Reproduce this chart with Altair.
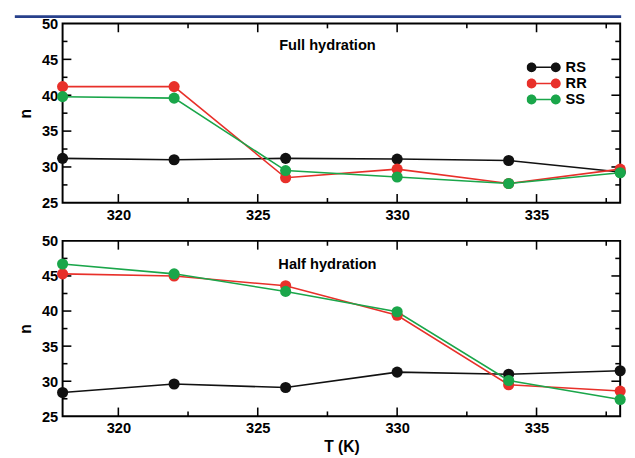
import altair as alt
import pandas as pd

# ---- data ----
T = [318, 322, 326, 330, 334, 338]
series = ["RS", "RR", "SS"]
colors = ["#111111", "#e8302a", "#1aa64a"]

full_RS = [31.2, 31.0, 31.2, 31.1, 30.9, 29.3]
full_RR = [41.2, 41.2, 28.5, 29.7, 27.7, 29.7]
full_SS = [39.8, 39.6, 29.5, 28.6, 27.7, 29.2]

half_RS = [28.4, 29.6, 29.1, 31.3, 31.0, 31.5]
half_RR = [45.3, 45.0, 43.6, 39.4, 29.5, 28.6]
half_SS = [46.7, 45.3, 42.8, 39.9, 30.1, 27.4]

x_major = [320, 325, 330, 335]
x_minor = [322.5, 327.5, 332.5, 337.5]
y_major = [30, 35, 40, 45]
y_minor = [27.5, 32.5, 37.5, 42.5, 47.5]
y_labels = [25, 30, 35, 40, 45, 50]

X_DOM = [318, 338]
Y_DOM = [25, 50]

FONT = "Liberation Sans"
W = 572
MAJ = 9     # inward major tick length (px)
MIN = 5     # inward minor tick length (px)
THICK = 1.6  # tick thickness (px)
LEGEND_PATH = ("M -1 0 A 0.29 0.29 0 1 1 -0.42 0 A 0.29 0.29 0 1 1 -1 0 Z "
               "M 0.42 0 A 0.29 0.29 0 1 1 1 0 A 0.29 0.29 0 1 1 0.42 0 Z "
               "M -0.44 -0.045 L 0.44 -0.045 L 0.44 0.045 L -0.44 0.045 Z")


def make_df(rs, rr, ss):
    rows = []
    for name, vals in zip(series, [rs, rr, ss]):
        for t, v in zip(T, vals):
            rows.append({"T": t, "n": v, "series": name})
    return pd.DataFrame(rows)


def tick_table(H):
    # small filled rectangles for inward ticks on the four edges
    ux = (X_DOM[1] - X_DOM[0]) / W    # data units per px along x
    uy = (Y_DOM[1] - Y_DOM[0]) / H    # data units per px along y
    hx = THICK / 2 * ux
    hy = THICK / 2 * uy
    rows = []
    for vals, L in ((x_major, MAJ), (x_minor, MIN)):
        for v in vals:
            rows.append({"x1": v - hx, "x2": v + hx,
                         "y1": Y_DOM[0], "y2": Y_DOM[0] + L * uy})
            rows.append({"x1": v - hx, "x2": v + hx,
                         "y1": Y_DOM[1] - L * uy, "y2": Y_DOM[1]})
    for vals, L in ((y_major, MAJ), (y_minor, MIN)):
        for v in vals:
            rows.append({"x1": X_DOM[0], "x2": X_DOM[0] + L * ux,
                         "y1": v - hy, "y2": v + hy})
            rows.append({"x1": X_DOM[1] - L * ux, "x2": X_DOM[1],
                         "y1": v - hy, "y2": v + hy})
    return pd.DataFrame(rows)


def panel(df, H, label, label_y, xtitle, show_legend, top_rule):
    xs = alt.Scale(domain=X_DOM, nice=False, zero=False)
    ys = alt.Scale(domain=Y_DOM, nice=False, zero=False)
    cscale = alt.Scale(domain=series, range=colors)

    if show_legend:
        leg = alt.Legend(
            title=None, orient="none", legendX=472, legendY=33,
            symbolType=LEGEND_PATH, symbolSize=1225, symbolStrokeWidth=0,
            symbolOpacity=1, labelFont=FONT, labelFontSize=15,
            labelFontWeight="bold", labelColor="black", clipHeight=16,
            rowPadding=0.5, labelOffset=5, fillColor="white", padding=4)
    else:
        leg = None

    lines = alt.Chart(df).mark_line(strokeWidth=1.6).encode(
        x=alt.X("T:Q", scale=xs, axis=alt.Axis(
            orient="bottom", values=x_major, format="d", grid=False,
            title=xtitle, titlePadding=3)),
        y=alt.Y("n:Q", scale=ys, axis=alt.Axis(
            orient="left", values=y_labels, grid=False,
            title="n", titlePadding=8)),
        color=alt.Color("series:N", scale=cscale, legend=leg),
    )

    pts = alt.Chart(df).mark_circle(size=130, opacity=1).encode(
        x=alt.X("T:Q", scale=xs, axis=None),
        y=alt.Y("n:Q", scale=ys, axis=None),
        color=alt.Color("series:N", scale=cscale, legend=leg),
    )

    ticks = alt.Chart(tick_table(H)).mark_rect(
        color="#000000", opacity=1).encode(
        x=alt.X("x1:Q", scale=xs, axis=None),
        x2="x2:Q",
        y=alt.Y("y1:Q", scale=ys, axis=None),
        y2="y2:Q",
    )

    txt = alt.Chart().mark_text(
        text=label, font=FONT, fontSize=15, fontWeight="bold",
        color="black", baseline="middle", align="center",
    ).encode(
        x=alt.XDatum(327.5, axis=None),
        y=alt.YDatum(label_y, axis=None),
    )

    layers = [ticks, lines, pts, txt]
    if top_rule:
        rule = alt.Chart().mark_rule(color="#27408b", strokeWidth=3).encode(
            x=alt.value(-49), x2=alt.value(573), y=alt.value(-7))
        layers.append(rule)

    return alt.layer(*layers).resolve_axis(
        x="independent", y="independent"
    ).properties(width=W, height=H)


top = panel(make_df(full_RS, full_RR, full_SS), 184, "Full hydration", 47.0,
            None, True, True)
bottom = panel(make_df(half_RS, half_RR, half_SS), 180, "Half hydration", 46.7,
               "T (K)", False, False)

PAD = {"left": 4, "top": 0, "right": 0, "bottom": 2}

chart = alt.vconcat(top, bottom, spacing=10).resolve_scale(
    color="independent"
).properties(
    padding=PAD,
    background="white",
).configure_view(
    stroke="black", strokeWidth=2
).configure_axis(
    labelFont=FONT, labelFontWeight="bold", labelFontSize=15,
    labelColor="black", titleFont=FONT, titleFontSize=16,
    titleFontWeight="bold", titleColor="black",
    ticks=False, tickSize=0, domain=False, labelPadding=5
)

chart.save("out.html", embed_options={"renderer": "svg", "actions": False})
